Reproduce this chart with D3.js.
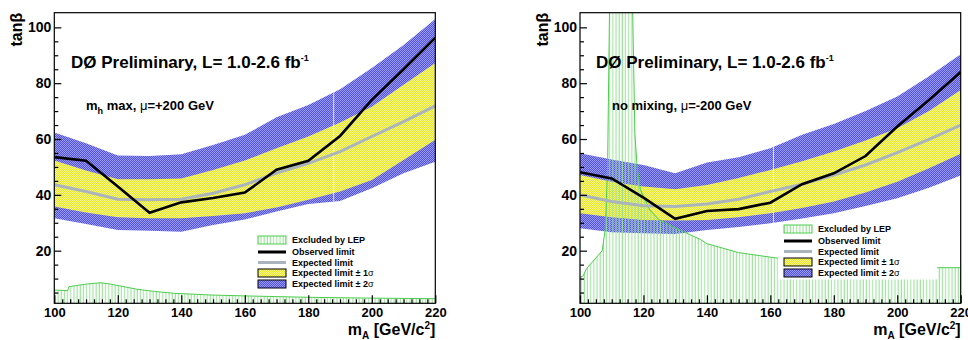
<!DOCTYPE html>
<html>
<head>
<meta charset="utf-8">
<script src="https://cdn.jsdelivr.net/npm/d3@7"></script>
<style>
body { margin: 0; background: #fff; }
svg text { font-family: "Liberation Sans", Arial, Helvetica, sans-serif; font-weight: bold; fill: #000; }
</style>
</head>
<body>
<svg width="968" height="340"></svg>
<script>
// m_A grid of the limit points
const massPoints = [100, 110, 120, 130, 140, 150, 160, 170, 180, 190, 200, 210, 220];

// m_h max, mu = +200 GeV
const mhmaxObserved = [53.5, 52.2, 43.0, 33.6, 37.3, 38.9, 40.8, 49.0, 52.2, 61.1, 74.0, 85.0, 96.3];
const mhmaxExpected = [43.6, 41.2, 38.4, 38.2, 38.4, 40.6, 43.6, 47.8, 51.3, 55.5, 60.9, 66.2, 71.9];
const mhmaxOneSigmaLow = [35.8, 33.7, 32.0, 31.6, 31.6, 32.4, 33.4, 35.5, 38.2, 41.2, 45.3, 52.5, 59.7];
const mhmaxOneSigmaHigh = [52.3, 48.7, 45.6, 45.6, 45.9, 48.9, 52.3, 56.7, 60.9, 65.9, 71.6, 79.4, 87.2];
const mhmaxTwoSigmaLow = [31.6, 29.6, 27.4, 27.1, 26.8, 29.2, 31.2, 34.0, 36.7, 37.8, 42.4, 47.7, 51.9];
const mhmaxTwoSigmaHigh = [62.3, 58.5, 54.1, 53.9, 54.5, 57.9, 61.5, 67.8, 72.2, 77.8, 85.4, 93.7, 103.0];
const mhmaxLepMass = [100, 104.2, 104.6, 110.5, 114.7, 116.8, 121, 126, 131.5, 138, 150, 160, 180, 200, 220];
const mhmaxLepTanb = [5.9, 5.7, 7.1, 8.1, 8.5, 8.2, 7.3, 6.2, 5.4, 4.7, 4.1, 3.8, 3.3, 3.0, 2.8];
const mhmaxLepOutlined = [1, 1, 1, 1, 1, 1, 1, 1, 1, 1, 1, 1, 1, 1, 1];

// no mixing, mu = -200 GeV
const nomixObserved = [48.1, 45.9, 39.0, 31.4, 34.2, 34.9, 37.2, 43.8, 47.7, 53.9, 64.5, 74.0, 84.0];
const nomixExpected = [40.0, 37.6, 36.1, 35.8, 36.7, 38.4, 41.2, 43.8, 47.1, 50.7, 55.1, 59.9, 65.0];
const nomixOneSigmaLow = [33.4, 32.0, 31.0, 30.8, 31.0, 32.0, 33.4, 35.3, 37.6, 40.8, 44.7, 49.5, 54.7];
const nomixOneSigmaHigh = [47.1, 44.7, 43.0, 42.0, 43.5, 46.0, 48.9, 52.0, 55.5, 59.5, 63.9, 70.0, 77.6];
const nomixTwoSigmaLow = [28.0, 26.6, 26.2, 26.0, 27.4, 28.5, 29.8, 31.5, 33.4, 36.0, 38.8, 42.5, 46.9];
const nomixTwoSigmaHigh = [54.9, 52.7, 50.7, 47.7, 51.6, 53.5, 56.7, 61.5, 65.4, 70.0, 75.2, 82.5, 90.4];
const nomixLepMass = [100, 101, 102, 107, 108, 108.7, 109.3, 116.6, 117.3, 118, 119, 122, 125, 131.5, 138, 140, 150, 162.4, 162.4, 212.6, 212.6, 220];
const nomixLepTanb = [10.5, 11, 13.5, 20, 28, 50, 106, 106, 62, 50, 42, 34.6, 31, 27.4, 24, 22.5, 19.3, 17.3, 9.7, 9.7, 13.9, 13.9];
const nomixLepOutlined = [1, 1, 1, 1, 1, 1, 1, 1, 1, 1, 1, 1, 1, 1, 1, 1, 1, 1, 0, 0, 1, 1];

const xTicks = [100, 120, 140, 160, 180, 200, 220];
const yTicks = [20, 40, 60, 80, 100];
const legendLabels = ["Excluded by LEP", "Observed limit", "Expected limit", "Expected limit \u00b1 1", "Expected limit \u00b1 2"];

const svg = d3.select('svg');
const defs = svg.append('defs');

// ROOT-like dotted fills
function dotPattern(id, base, light) {
    const p = defs.append('pattern')
        .attr('id', id)
        .attr('patternUnits', 'userSpaceOnUse')
        .attr('width', 2).attr('height', 2);
    p.append('rect').attr('width', 2).attr('height', 2).attr('fill', base);
    p.append('rect').attr('width', 1).attr('height', 1).attr('fill', light);
    p.append('rect').attr('x', 1).attr('y', 1).attr('width', 1).attr('height', 1).attr('fill', light);
}
dotPattern('blueFill', '#5252e6', '#9a9af8');
dotPattern('yellowFill', '#e4e42a', '#f7f78a');

const hatch = defs.append('pattern')
    .attr('id', 'lepHatch')
    .attr('patternUnits', 'userSpaceOnUse')
    .attr('width', 3.17).attr('height', 10);
hatch.append('line')
    .attr('x1', 1).attr('x2', 1).attr('y1', 0).attr('y2', 10)
    .attr('stroke', '#92e092').attr('stroke-width', 1);

const panels = [
    {
        id: 'mhmax', left: 54.3, right: 435.3,
        observed: mhmaxObserved, expected: mhmaxExpected,
        oneLow: mhmaxOneSigmaLow, oneHigh: mhmaxOneSigmaHigh,
        twoLow: mhmaxTwoSigmaLow, twoHigh: mhmaxTwoSigmaHigh,
        lepMass: mhmaxLepMass, lepTanb: mhmaxLepTanb, lepOutlined: mhmaxLepOutlined,
        seam: 188,
        scenario: ['m', 'h', ' max, ', '\u03bc', '=+200 GeV'],
        scenarioX: 86, prelimX: 71,
        legendX: 258, legendY: [240, 252, 262.5, 273, 284]
    },
    {
        id: 'nomix', left: 580, right: 960.7,
        observed: nomixObserved, expected: nomixExpected,
        oneLow: nomixOneSigmaLow, oneHigh: nomixOneSigmaHigh,
        twoLow: nomixTwoSigmaLow, twoHigh: nomixTwoSigmaHigh,
        lepMass: nomixLepMass, lepTanb: nomixLepTanb, lepOutlined: nomixLepOutlined,
        seam: 161,
        scenario: ['no mixing, ', null, '', '\u03bc', '=-200 GeV'],
        scenarioX: 612, prelimX: 596,
        legendX: 784, legendY: [229, 241, 251.5, 262, 273]
    }
];

const frameTop = 12.7, frameBottom = 303.3;

panels.forEach(drawPanel);

function drawPanel(p) {
    const x = d3.scaleLinear().domain([100, 220]).range([p.left, p.right]);
    const y = d3.scaleLinear().domain([1.15, 105.25]).range([frameBottom, frameTop]);
    const g = svg.append('g');

    defs.append('clipPath').attr('id', 'clip-' + p.id)
        .append('rect')
        .attr('x', p.left).attr('y', frameTop)
        .attr('width', p.right - p.left).attr('height', frameBottom - frameTop);

    const plot = g.append('g').attr('clip-path', `url(#clip-${p.id})`);

    const band = (lo, hi) => d3.area()
        .x((d, i) => x(massPoints[i]))
        .y0((d, i) => y(lo[i]))
        .y1((d, i) => y(hi[i]));

    plot.append('path')
        .attr('d', band(p.twoLow, p.twoHigh)(massPoints))
        .attr('fill', 'url(#blueFill)');
    plot.append('path')
        .attr('d', band(p.oneLow, p.oneHigh)(massPoints))
        .attr('fill', 'url(#yellowFill)');

    // thin white seam left in the band by the original renderer
    defs.append('clipPath').attr('id', 'band-' + p.id)
        .append('path').attr('d', band(p.twoLow, p.twoHigh)(massPoints));
    plot.append('line')
        .attr('clip-path', `url(#band-${p.id})`)
        .attr('x1', x(p.seam)).attr('x2', x(p.seam))
        .attr('y1', frameTop).attr('y2', frameBottom)
        .attr('stroke', '#fff').attr('stroke-width', 0.8);

    // LEP exclusion
    const lep = p.lepMass.map((m, i) => [m, p.lepTanb[i], p.lepOutlined[i]]);
    plot.append('path')
        .attr('d', d3.area().x(d => x(d[0])).y0(y(1.15)).y1(d => y(d[1]))(lep))
        .attr('fill', 'url(#lepHatch)');
    plot.append('path')
        .attr('d', d3.line().defined(d => d[2]).x(d => x(d[0])).y(d => y(d[1]))(lep))
        .attr('fill', 'none')
        .attr('stroke', '#4ccc4c')
        .attr('stroke-width', 1);

    const line = vals => d3.line()
        .x((d, i) => x(massPoints[i]))
        .y(d => y(d))(vals);

    plot.append('path')
        .attr('d', line(p.expected))
        .attr('fill', 'none')
        .attr('stroke', '#aab4bd')
        .attr('stroke-width', 3);
    plot.append('path')
        .attr('d', line(p.observed))
        .attr('fill', 'none')
        .attr('stroke', '#000')
        .attr('stroke-width', 2.6)
        .attr('stroke-linejoin', 'miter');

    // axes: ticks point inward like ROOT
    const minorX = d3.range(100, 220.01, 2.5).filter(v => v % 20 !== 0);
    const minorY = d3.range(5, 105, 5).filter(v => v % 20 !== 0);

    g.append('g')
        .attr('transform', `translate(0,${frameBottom})`)
        .call(d3.axisBottom(x).tickValues(minorX).tickSize(-4).tickFormat(''))
        .call(a => a.select('.domain').remove());
    g.append('g')
        .attr('transform', `translate(0,${frameBottom})`)
        .call(d3.axisBottom(x).tickValues(xTicks).tickSizeInner(-8).tickSizeOuter(0).tickPadding(4).tickFormat(d3.format('d')))
        .call(a => a.select('.domain').remove())
        .call(a => a.selectAll('text').style('font-size', '13px'));

    g.append('g')
        .attr('transform', `translate(${p.left},0)`)
        .call(d3.axisLeft(y).tickValues(minorY).tickSize(-4).tickFormat(''))
        .call(a => a.select('.domain').remove());
    g.append('g')
        .attr('transform', `translate(${p.left},0)`)
        .call(d3.axisLeft(y).tickValues(yTicks).tickSizeInner(-7).tickSizeOuter(0).tickPadding(3).tickFormat(d3.format('d')))
        .call(a => a.select('.domain').remove())
        .call(a => a.selectAll('text').style('font-size', '14px'));

    g.selectAll('.tick line').attr('stroke', '#000').attr('stroke-width', 1.2);

    g.append('rect')
        .attr('x', p.left).attr('y', frameTop)
        .attr('width', p.right - p.left).attr('height', frameBottom - frameTop)
        .attr('fill', 'none').attr('stroke', '#000').attr('stroke-width', 1.2);

    // axis titles
    g.append('text')
        .attr('transform', `translate(${p.left - 32},${frameTop}) rotate(-90)`)
        .attr('text-anchor', 'end')
        .style('font-size', '16px')
        .text('tan\u03b2');

    const xt = g.append('text')
        .attr('x', p.right).attr('y', 335)
        .attr('text-anchor', 'end')
        .style('font-size', '16px');
    xt.append('tspan').text('m');
    xt.append('tspan').attr('dy', 3.5).style('font-size', '10px').text('A');
    xt.append('tspan').attr('dy', -3.5).text(' [GeV/c');
    xt.append('tspan').attr('dy', -6).style('font-size', '10px').text('2');
    xt.append('tspan').attr('dy', 6).text(']');

    // labels
    const pre = g.append('text')
        .attr('x', p.prelimX).attr('y', 68)
        .style('font-size', '17px');
    pre.append('tspan').text('D\u00d8 Preliminary, L= 1.0-2.6 fb');
    pre.append('tspan').attr('dy', -7).style('font-size', '9px').text('-1');

    const sc = g.append('text')
        .attr('x', p.scenarioX).attr('y', 110)
        .style('font-size', '13px');
    sc.append('tspan').text(p.scenario[0]);
    if (p.scenario[1]) sc.append('tspan').attr('dy', 4).style('font-size', '9px').text(p.scenario[1]);
    if (p.scenario[1]) sc.append('tspan').attr('dy', -4).text(p.scenario[2]);
    sc.append('tspan').style('font-weight', 'normal').text(p.scenario[3]);
    sc.append('tspan').text(p.scenario[4]);

    // legend
    const lx = p.legendX, lw = 28, bh = 8;
    const ly = p.legendY;
    g.append('rect').attr('x', lx).attr('y', ly[0] - bh / 2).attr('width', lw).attr('height', bh)
        .attr('fill', 'url(#lepHatch)').attr('stroke', '#4ccc4c').attr('stroke-width', 1);
    g.append('line').attr('x1', lx).attr('x2', lx + lw).attr('y1', ly[1]).attr('y2', ly[1])
        .attr('stroke', '#000').attr('stroke-width', 3);
    g.append('line').attr('x1', lx).attr('x2', lx + lw).attr('y1', ly[2]).attr('y2', ly[2])
        .attr('stroke', '#aab4bd').attr('stroke-width', 3);
    g.append('rect').attr('x', lx).attr('y', ly[3] - bh / 2).attr('width', lw).attr('height', bh)
        .attr('fill', 'url(#yellowFill)').attr('stroke', '#000').attr('stroke-width', 1);
    g.append('rect').attr('x', lx).attr('y', ly[4] - bh / 2).attr('width', lw).attr('height', bh)
        .attr('fill', 'url(#blueFill)').attr('stroke', '#000').attr('stroke-width', 1);

    legendLabels.forEach((t, i) => {
        const tx = g.append('text')
            .attr('x', lx + lw + 6).attr('y', ly[i])
            .attr('dy', '0.35em')
            .style('font-size', '9px');
        tx.append('tspan').text(t);
        if (i >= 3) tx.append('tspan').style('font-weight', 'normal').text('\u03c3');
    });
}
</script>
</body>
</html>
